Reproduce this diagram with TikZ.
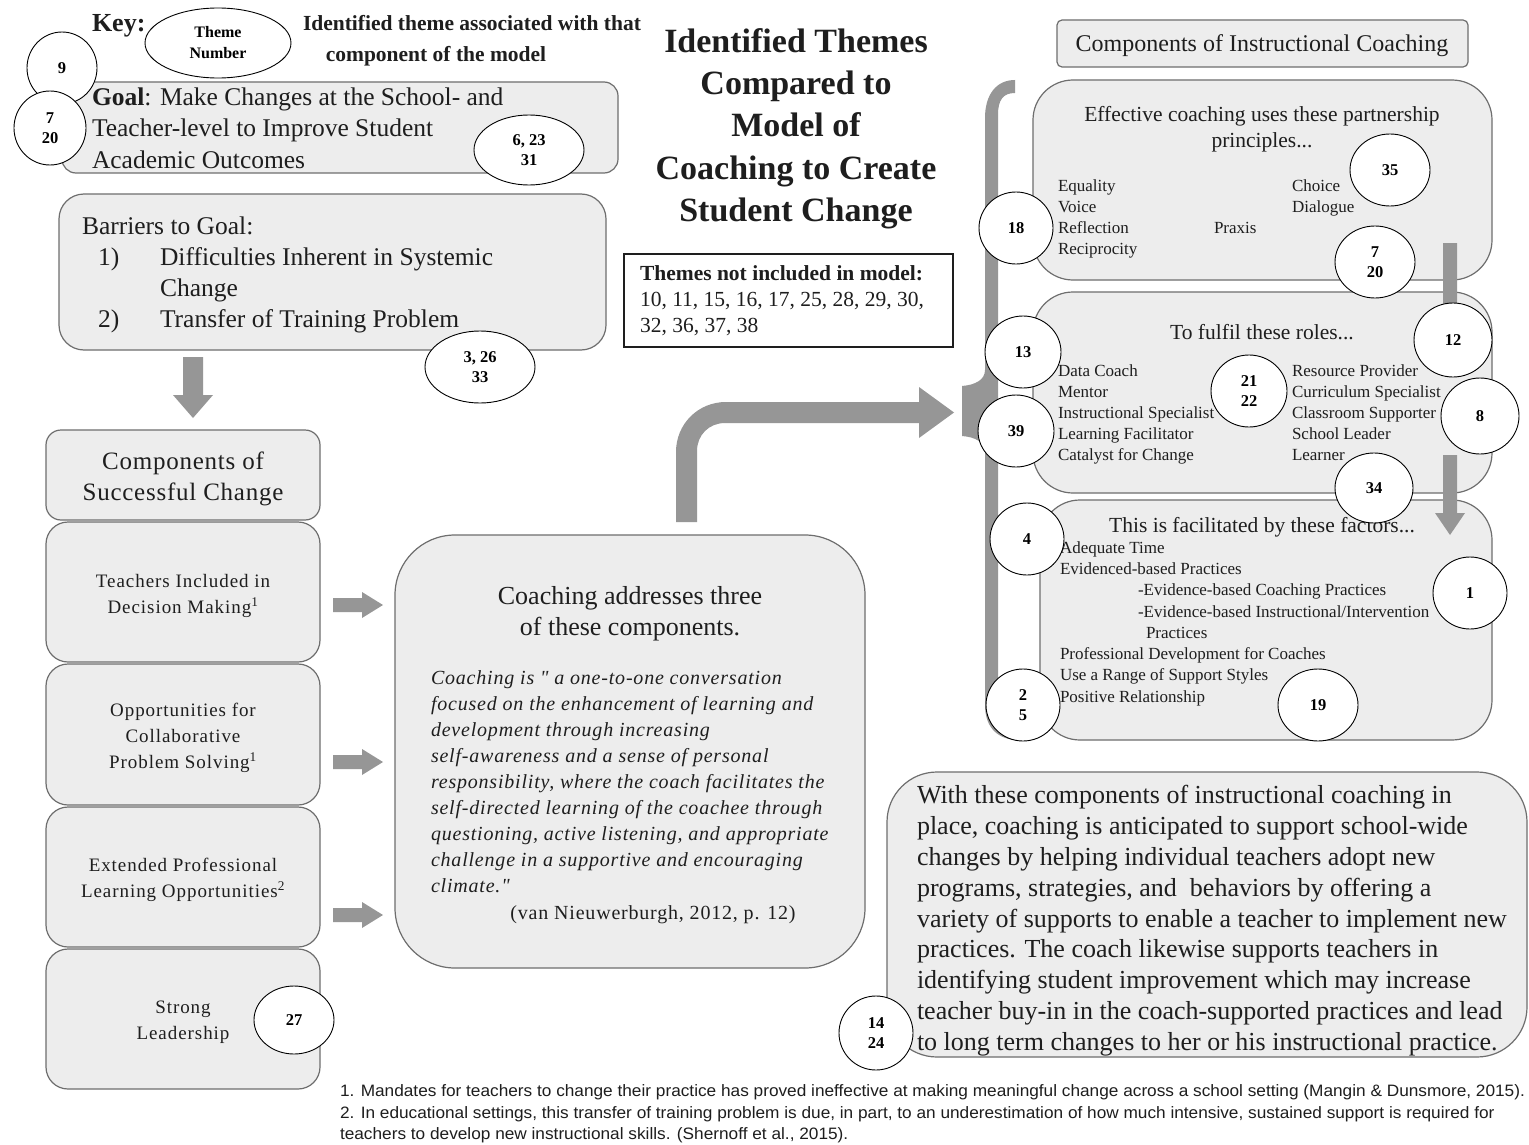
\documentclass[tikz,border=0pt]{standalone}
\usepackage{fontspec}
\setmainfont{Liberation Serif}
\newfontfamily\spacedf[LetterSpace=5]{Liberation Serif}
\newfontfamily\spacedb[LetterSpace=3]{Liberation Serif}
\newfontfamily\quotef[LetterSpace=4]{Liberation Serif}
\newfontfamily\notef[FakeStretch=1.045]{Liberation Sans}
\usetikzlibrary{shapes.geometric}
\definecolor{boxfill}{RGB}{237,237,237}
\definecolor{boxline}{RGB}{110,110,110}
\definecolor{arrowgray}{RGB}{150,150,150}
\definecolor{ink}{RGB}{30,30,30}
\newcommand{\setfs}[2]{\fontsize{#1}{#2}\selectfont}
\begin{document}
\begin{tikzpicture}[x=1pt,y=-1pt,
  tx/.style={inner sep=0pt, outer sep=0pt, text=ink},
  txl/.style={tx, anchor=base west},
  txc/.style={tx, anchor=base},
  th/.style={draw=black, fill=white, ellipse, line width=0.9pt, inner sep=0pt, align=center, text=black, font=\bfseries\setfs{16.5}{20}},
  rbox/.style={draw=boxline, fill=boxfill, line width=1.2pt, inner sep=0pt, outer sep=0pt},
  blk/.style={fill=arrowgray, draw=none},
  fbig/.style={font=\setfs{25.5}{31}},
  fhead/.style={font=\setfs{21.5}{26}},
  fitem/.style={font=\setfs{17}{21}},
  fcol/.style={font=\spacedf\setfs{19}{26}},
  fquote/.style={font=\quotef\itshape\setfs{20}{26}},
  fnote/.style={font=\notef\setfs{16.5}{21}}
]
\useasboundingbox (0,0) rectangle (1529,1145);
\fill[white] (0,0) rectangle (1529,1145);

% ---------- boxes ----------
\node[rbox, rounded corners=14pt, minimum width=556pt, minimum height=91pt] (goal) at (340,127.5) {};
\node[rbox, rounded corners=25pt, minimum width=547pt, minimum height=156pt] (barriers) at (332.5,272) {};
\node[rbox, rounded corners=15pt, minimum width=274pt, minimum height=90pt] (comp) at (183,475) {};
\node[rbox, rounded corners=22pt, minimum width=274pt, minimum height=140pt] (tea) at (183,592) {};
\node[rbox, rounded corners=22pt, minimum width=274pt, minimum height=141pt] (opp) at (183,734.5) {};
\node[rbox, rounded corners=22pt, minimum width=274pt, minimum height=140pt] (ext) at (183,877) {};
\node[rbox, rounded corners=22pt, minimum width=274pt, minimum height=140pt] (lead) at (183,1019) {};
\node[rbox, rounded corners=60pt, minimum width=470pt, minimum height=433pt] (mid) at (630,751.5) {};
\node[draw=ink, fill=white, line width=1.3pt, inner sep=0pt, minimum width=329pt, minimum height=93pt] (themes) at (788.5,300.5) {};
\node[rbox, rounded corners=5pt, minimum width=411pt, minimum height=47pt] (hdr) at (1262.5,43.5) {};
\node[rbox, rounded corners=40pt, minimum width=459pt, minimum height=200pt] (b1) at (1262.5,180) {};
\node[rbox, rounded corners=40pt, minimum width=459pt, minimum height=201pt] (b2) at (1262.5,392.5) {};
\node[rbox, rounded corners=40pt, minimum width=452pt, minimum height=240pt] (b3) at (1266,620) {};
\node[rbox, rounded corners=50pt, minimum width=640pt, minimum height=285pt] (br) at (1207,914.5) {};

% ---------- arrows and brace ----------
\fill[blk] (183,357) -- (203,357) -- (203,395) -- (213,395) -- (193,418) -- (173,395) -- (183,395) -- cycle;
\foreach \yy in {605,762,915}{
  \fill[blk] (333,\yy-7) -- (362,\yy-7) -- (362,\yy-13) -- (383,\yy) -- (362,\yy+13) -- (362,\yy+7) -- (333,\yy+7) -- cycle;
}
\fill[blk] (676,522) -- (676,452) .. controls (676,424) and (698,402) .. (726,402) -- (919,402) -- (919,387) -- (954,412.5) -- (919,438) -- (919,423) -- (725,423) .. controls (709,423) and (697,435) .. (697,451) -- (697,522) -- cycle;
\fill[blk] (1015,80) -- (1015,93) .. controls (1003,93) and (998,100) .. (998,115) -- (998,700) .. controls (998,718) and (1003,726) .. (1015,728) -- (1015,740) .. controls (995,738) and (985,725) .. (985,705) -- (985,452) .. controls (985,442) and (975,437) .. (962,436) -- (962,386) .. controls (975,385) and (985,380) .. (985,370) -- (985,118) .. controls (985,95) and (996,80) .. (1015,80) -- cycle;
\fill[blk] (1443,243) -- (1457,243) -- (1457,318) -- (1465,318) -- (1450,338) -- (1435,318) -- (1443,318) -- cycle;
\fill[blk] (1443,455) -- (1457,455) -- (1457,513) -- (1465,513) -- (1450,535) -- (1435,513) -- (1443,513) -- cycle;

% ---------- key and title ----------
\node[txl, font=\bfseries\setfs{26}{30}] (keylbl) at (92,32) {Key:};
\node[txc, font=\bfseries\setfs{21.5}{26}] (keyd1) at (472,31) {Identified theme associated with that};
\node[txc, font=\bfseries\setfs{21.5}{26}] (keyd2) at (436,62) {component of the model};
\node[txc, font=\bfseries\setfs{34}{42}] (ti1) at (796,53) {Identified Themes};
\node[txc, font=\bfseries\setfs{34}{42}] (ti2) at (796,95) {Compared to};
\node[txc, font=\bfseries\setfs{34}{42}] (ti3) at (796,137) {Model of};
\node[txc, font=\bfseries\setfs{34}{42}] (ti4) at (796,179) {Coaching to Create};
\node[txc, font=\bfseries\setfs{34}{42}] (ti5) at (796,221) {Student Change};

% ---------- goal / barriers ----------
\node[txl, fbig] (g1) at (92,106) {\textbf{Goal}: Make Changes at the School- and};
\node[txl, fbig] (g2) at (92,137) {Teacher-level to Improve Student};
\node[txl, fbig] (g3) at (92,168) {Academic Outcomes};
\node[txl, fbig] (ba0) at (82,234) {Barriers to Goal:};
\node[txl, fbig] (ba1n) at (98,265) {1)};
\node[txl, fbig] (ba1) at (160,265) {Difficulties Inherent in Systemic};
\node[txl, fbig] (ba1b) at (160,296) {Change};
\node[txl, fbig] (ba2n) at (98,327) {2)};
\node[txl, fbig] (ba2) at (160,327) {Transfer of Training Problem};

% ---------- left column ----------
\node[txc, font=\spacedb\setfs{25}{31}] (c1) at (183,469) {Components of};
\node[txc, font=\spacedb\setfs{25}{31}] (c2) at (183,500) {Successful Change};
\node[txc, fcol] (t1a) at (183,587) {Teachers Included in};
\node[txc, fcol] (t1b) at (183,613) {Decision Making\textsuperscript{1}};
\node[txc, fcol] (t2a) at (183,716) {Opportunities for};
\node[txc, fcol] (t2b) at (183,742) {Collaborative};
\node[txc, fcol] (t2c) at (183,768) {Problem Solving\textsuperscript{1}};
\node[txc, fcol] (t3a) at (183,871) {Extended Professional};
\node[txc, fcol] (t3b) at (183,897) {Learning Opportunities\textsuperscript{2}};
\node[txc, fcol] (t4a) at (183,1013) {Strong};
\node[txc, fcol] (t4b) at (183,1039) {Leadership};

% ---------- middle ----------
\node[txc, font=\setfs{26}{31}] (m1) at (630,604) {Coaching addresses three};
\node[txc, font=\setfs{26}{31}] (m2) at (630,635) {of these components.};
\node[txl, fquote] (q1) at (431,684) {Coaching is " a one-to-one conversation};
\node[txl, fquote] (q2) at (431,710) {focused on the enhancement of learning and};
\node[txl, fquote] (q3) at (431,736) {development through increasing};
\node[txl, fquote] (q4) at (431,762) {self-awareness and a sense of personal};
\node[txl, fquote] (q5) at (431,788) {responsibility, where the coach facilitates the};
\node[txl, fquote] (q6) at (431,814) {self-directed learning of the coachee through};
\node[txl, fquote] (q7) at (431,840) {questioning, active listening, and appropriate};
\node[txl, fquote] (q8) at (431,866) {challenge in a supportive and encouraging};
\node[txl, fquote] (q9) at (431,892) {climate."};
\node[txc, font=\quotef\setfs{20}{26}] (cite) at (653,919) {(van Nieuwerburgh, 2012, p. 12)};

% ---------- themes not included ----------
\node[txl, font=\bfseries\setfs{21.5}{26}] (th1) at (640,280) {Themes not included in model:};
\node[txl, font=\setfs{21.5}{26}] (th2) at (640,306) {10, 11, 15, 16, 17, 25, 28, 29, 30,};
\node[txl, font=\setfs{21.5}{26}] (th3) at (640,332) {32, 36, 37, 38};

% ---------- right column ----------
\node[txc, font=\setfs{24}{28}] (hdrt) at (1262,52) {Components of Instructional Coaching};
\node[txc, fhead] (b1h1) at (1262,122) {Effective coaching uses these partnership};
\node[txc, fhead] (b1h2) at (1262,148) {principles...};
\node[txl, fitem] (p1) at (1058,191) {Equality};
\node[txl, fitem] (p2) at (1058,212) {Voice};
\node[txl, fitem] (p3) at (1058,233) {Reflection};
\node[txl, fitem] (p4) at (1058,254) {Reciprocity};
\node[txl, fitem] (p5) at (1214,233) {Praxis};
\node[txl, fitem] (p6) at (1292,191) {Choice};
\node[txl, fitem] (p7) at (1292,212) {Dialogue};

\node[txc, fhead] (b2h) at (1262,339) {To fulfil these roles...};
\node[txl, fitem] (r1) at (1058,376) {Data Coach};
\node[txl, fitem] (r2) at (1058,397) {Mentor};
\node[txl, fitem] (r3) at (1058,418) {Instructional Specialist};
\node[txl, fitem] (r4) at (1058,439) {Learning Facilitator};
\node[txl, fitem] (r5) at (1058,460) {Catalyst for Change};
\node[txl, fitem] (r6) at (1292,376) {Resource Provider};
\node[txl, fitem] (r7) at (1292,397) {Curriculum Specialist};
\node[txl, fitem] (r8) at (1292,418) {Classroom Supporter};
\node[txl, fitem] (r9) at (1292,439) {School Leader};
\node[txl, fitem] (r10) at (1292,460) {Learner};

\node[txc, fhead] (b3h) at (1262,532) {This is facilitated by these factors...};
\node[txl, fitem] (f1) at (1060,553) {Adequate Time};
\node[txl, fitem] (f2) at (1060,574) {Evidenced-based Practices};
\node[txl, fitem] (f3) at (1138,595) {-Evidence-based Coaching Practices};
\node[txl, fitem] (f4) at (1138,617) {-Evidence-based Instructional/Intervention};
\node[txl, fitem] (f5) at (1146,638) {Practices};
\node[txl, fitem] (f6) at (1060,659) {Professional Development for Coaches};
\node[txl, fitem] (f7) at (1060,680) {Use a Range of Support Styles};
\node[txl, fitem] (f8) at (1060,702) {Positive Relationship};

% ---------- bottom right ----------
\node[txl, font=\setfs{26}{31}] (w1) at (917,803) {With these components of instructional coaching in};
\node[txl, font=\setfs{26}{31}] (w2) at (917,834) {place, coaching is anticipated to support school-wide};
\node[txl, font=\setfs{26}{31}] (w3) at (917,865) {changes by helping individual teachers adopt new};
\node[txl, font=\setfs{26}{31}] (w4) at (917,896) {programs, strategies, and\ \ behaviors by offering a};
\node[txl, font=\setfs{26}{31}] (w5) at (917,927) {variety of supports to enable a teacher to implement new};
\node[txl, font=\setfs{26}{31}] (w6) at (917,957) {practices. The coach likewise supports teachers in};
\node[txl, font=\setfs{26}{31}] (w7) at (917,988) {identifying student improvement which may increase};
\node[txl, font=\setfs{26}{31}] (w8) at (917,1019) {teacher buy-in in the coach-supported practices and lead};
\node[txl, font=\setfs{26}{31}] (w9) at (917,1050) {to long term changes to her or his instructional practice.};

% ---------- footnotes ----------
\node[txl, fnote] (n1) at (340,1096) {1. Mandates for teachers to change their practice has proved ineffective at making meaningful change across a school setting (Mangin \& Dunsmore, 2015).};
\node[txl, fnote] (n2) at (340,1118) {2. In educational settings, this transfer of training problem is due, in part, to an underestimation of how much intensive, sustained support is required for};
\node[txl, fnote] (n3) at (340,1139) {teachers to develop new instructional skills. (Shernoff et al., 2015).};

% ---------- theme circles ----------
\node[th, minimum width=146pt, minimum height=70pt, font=\bfseries\setfs{16}{21}] (keyel) at (218,43) {Theme\\Number};
\node[th, minimum width=70pt, minimum height=72pt] (c9) at (62,68) {9};
\node[th, minimum width=72pt, minimum height=74pt] (c720a) at (50,128) {7\\20};
\node[th, minimum width=110pt, minimum height=70pt] (c6) at (529,150) {6, 23\\31};
\node[th, minimum width=110pt, minimum height=72pt] (c3) at (480,367) {3, 26\\33};
\node[th, minimum width=80pt, minimum height=68pt] (c27) at (294,1020) {27};
\node[th, minimum width=74pt, minimum height=72pt] (c18) at (1016,228) {18};
\node[th, minimum width=80pt, minimum height=72pt] (c35) at (1390,170) {35};
\node[th, minimum width=80pt, minimum height=72pt] (c720b) at (1375,262) {7\\20};
\node[th, minimum width=76pt, minimum height=72pt] (c13) at (1023,352) {13};
\node[th, minimum width=76pt, minimum height=72pt] (c39) at (1016,431) {39};
\node[th, minimum width=76pt, minimum height=72pt] (c21) at (1249,391) {21\\22};
\node[th, minimum width=78pt, minimum height=74pt] (c12) at (1453,340) {12};
\node[th, minimum width=78pt, minimum height=76pt] (c8) at (1480,416) {8};
\node[th, minimum width=78pt, minimum height=70pt] (c34) at (1374,488) {34};
\node[th, minimum width=74pt, minimum height=72pt] (c4) at (1027,539) {4};
\node[th, minimum width=74pt, minimum height=72pt] (c1) at (1470,593) {1};
\node[th, minimum width=74pt, minimum height=72pt] (c25) at (1023,705) {2\\5};
\node[th, minimum width=80pt, minimum height=72pt] (c19) at (1318,705) {19};
\node[th, minimum width=74pt, minimum height=74pt] (c14) at (876,1033) {14\\24};
\end{tikzpicture}
\end{document}
